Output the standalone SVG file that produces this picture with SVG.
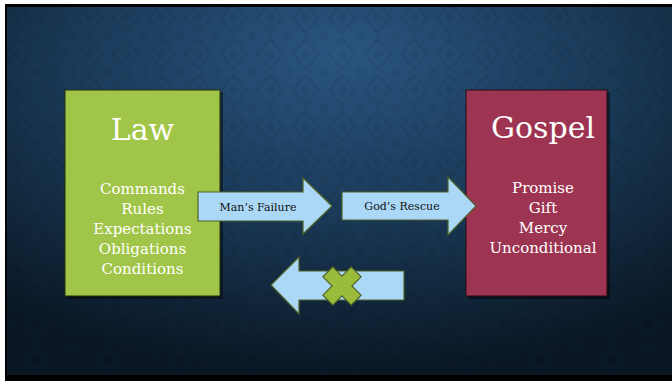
<svg xmlns="http://www.w3.org/2000/svg" width="672" height="381" viewBox="0 0 672 381">
  <defs>
    <radialGradient id="bg" cx="0.5" cy="0.2" r="0.8" fx="0.5" fy="0.12">
      <stop offset="0" stop-color="#2a5580"/>
      <stop offset="0.5" stop-color="#1a3a58"/>
      <stop offset="1" stop-color="#0a1724"/>
    </radialGradient>
    <pattern id="damask" width="36" height="36" patternUnits="userSpaceOnUse">
      <path d="M18 3 L31 18 L18 33 L5 18 Z" fill="none" stroke="#000" stroke-opacity="0.06" stroke-width="3"/>
      <circle cx="18" cy="18" r="4" fill="#000" fill-opacity="0.05"/>
      <circle cx="0" cy="0" r="4" fill="#000" fill-opacity="0.05"/>
      <circle cx="36" cy="0" r="4" fill="#000" fill-opacity="0.05"/>
      <circle cx="0" cy="36" r="4" fill="#000" fill-opacity="0.05"/>
      <circle cx="36" cy="36" r="4" fill="#000" fill-opacity="0.05"/>
    </pattern>
    <style>
      .title { font-family: "DejaVu Serif", "Liberation Serif", serif; font-size: 30px; fill: #ffffff; text-anchor: middle; }
      .item { font-family: "DejaVu Serif", "Liberation Serif", serif; font-size: 15px; fill: #ffffff; text-anchor: middle; }
      .lbl { font-family: "DejaVu Serif", "Liberation Serif", serif; font-size: 11px; fill: #111111; text-anchor: middle; }
      .arrow { fill: #aad8f6; stroke: #4f6228; stroke-width: 1.2; stroke-linejoin: miter; }
      .shadow { fill: #000000; fill-opacity: 0.45; }
    </style>
  </defs>

  <!-- background -->
  <rect x="0" y="0" width="672" height="381" fill="#ffffff"/>
  <rect x="5" y="4" width="667" height="377" fill="#000000"/>
  <rect x="7" y="7" width="665" height="368" fill="url(#bg)"/>
  <rect x="7" y="7" width="665" height="368" fill="url(#damask)"/>

  <!-- Law node -->
  <g id="law">
    <rect class="shadow" x="67" y="92" width="156" height="207"/>
    <rect x="65" y="90" width="155" height="206" fill="#a1c548" stroke="#22300e" stroke-width="1"/>
    <text class="title" x="142.5" y="140">Law</text>
    <text class="item" x="142.5" y="194">Commands</text>
    <text class="item" x="142.5" y="214">Rules</text>
    <text class="item" x="142.5" y="234">Expectations</text>
    <text class="item" x="142.5" y="254">Obligations</text>
    <text class="item" x="142.5" y="274">Conditions</text>
  </g>

  <!-- Gospel node -->
  <g id="gospel">
    <rect class="shadow" x="468" y="92" width="142" height="207"/>
    <rect x="466" y="90" width="141" height="206" fill="#9d3451" stroke="#2a0c14" stroke-width="1"/>
    <text class="title" x="543" y="138">Gospel</text>
    <text class="item" x="543" y="193">Promise</text>
    <text class="item" x="543" y="213">Gift</text>
    <text class="item" x="543" y="233">Mercy</text>
    <text class="item" x="543" y="253">Unconditional</text>
  </g>

  <!-- connectors -->
  <g id="connectors">
    <g id="mans-failure">
      <polygon class="arrow" points="198,192 303,192 303,178 332,206 303,234 303,221 198,221"/>
      <text class="lbl" x="258" y="211">Man’s Failure</text>
    </g>
    <g id="gods-rescue">
      <polygon class="arrow" points="342,192 448,192 448,177 476,206 448,235 448,220 342,220"/>
      <text class="lbl" x="402" y="210">God’s Rescue</text>
    </g>
    <g id="blocked-return">
      <polygon class="arrow" points="404,271 299,271 299,257 271,285 299,314 299,300 404,300"/>
      <polygon transform="translate(342,286) rotate(45)" points="-7,-20 7,-20 7,-7 20,-7 20,7 7,7 7,20 -7,20 -7,7 -20,7 -20,-7 -7,-7" fill="#9bbb3b" stroke="#4f6228" stroke-width="1.2"/>
    </g>
  </g>
</svg>
